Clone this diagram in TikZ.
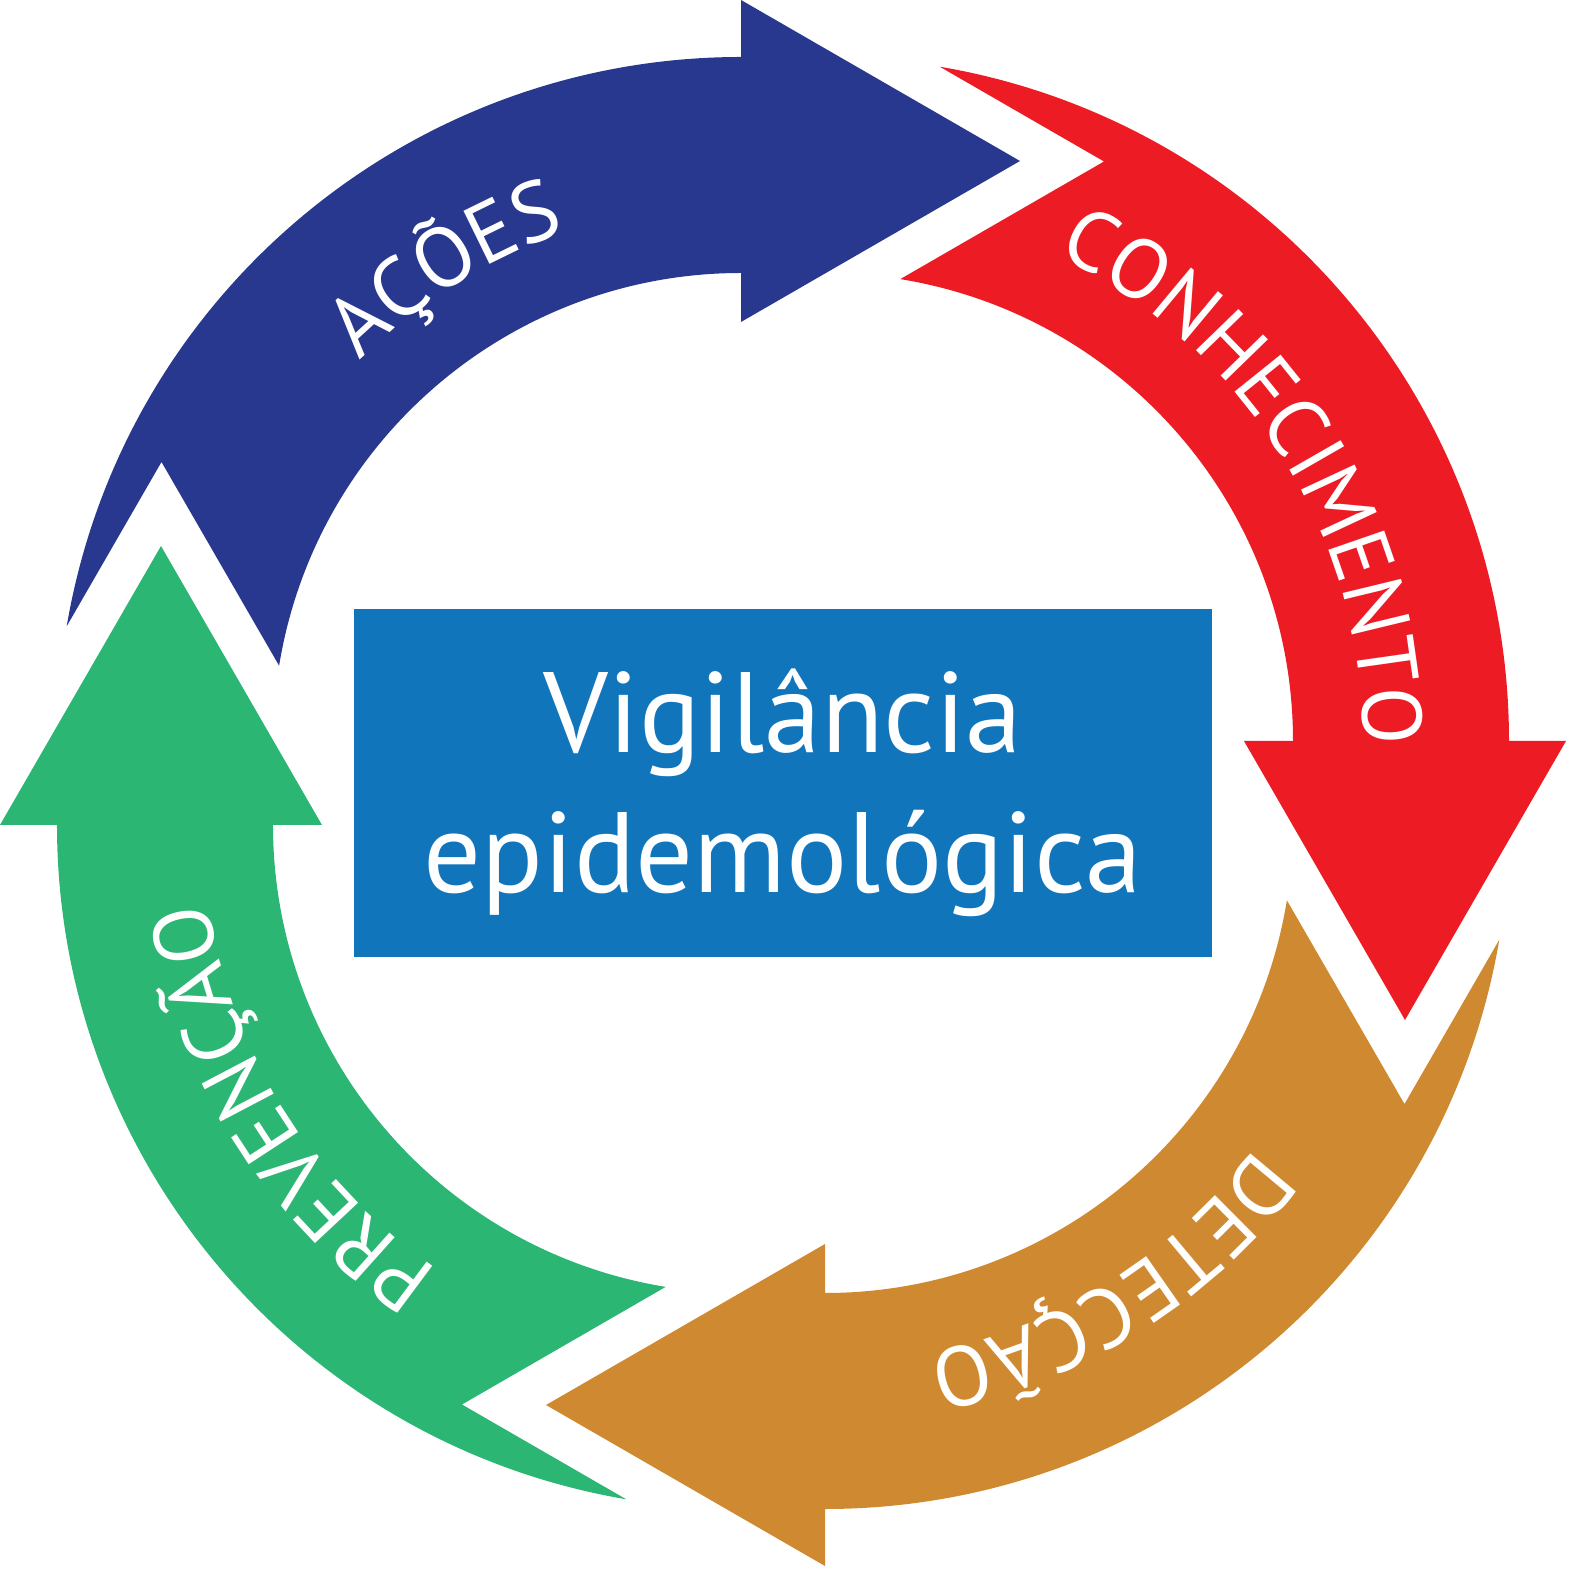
\documentclass[tikz,border=0pt]{standalone}
\usepackage{fontspec}
\setmainfont{PT Sans}
\usetikzlibrary{decorations.text}

\definecolor{acoesblue}{RGB}{41,56,143}
\definecolor{conhred}{RGB}{237,28,36}
\definecolor{detecorange}{RGB}{207,138,49}
\definecolor{prevgreen}{RGB}{44,182,115}
\definecolor{boxblue}{RGB}{17,117,188}

\newcommand{\ringfont}{\color{white}\fontsize{24}{28}\selectfont}

\begin{document}
\begin{tikzpicture}[x=0.01cm, y=0.01cm,
  ringtext/.style={decorate, decoration={text along path, text align=center, text format delimiters={|}{|}}},
  box/.style={fill=boxblue, minimum width=8.57cm, minimum height=3.48cm, inner sep=0pt},
  boxlabel/.style={text=white, anchor=base, inner sep=0pt, font=\fontsize{32.5}{39}\selectfont}]
\useasboundingbox (-783,-787) rectangle (786,783);

% Four curved arrows, each a quarter turn from the last
\foreach \col/\rot/\word in {acoesblue/0/AÇÕES, conhred/-90/CONHECIMENTO, detecorange/-180/DETECÇÃO, prevgreen/-270/PREVENÇÃO}{
  \begin{scope}[rotate=\rot, shift={(-42,42)}]
    \fill[\col] (170.34:684) arc[start angle=170.34, end angle=90, radius=684]
      -- (0,741) -- (279,580) -- (0,419) -- (0,468)
      arc[start angle=90, end angle=170.74, radius=468] -- (-579.5,279) -- cycle;
    \path[ringtext, decoration={text/.expanded={|\noexpand\ringfont|\word}}]
      (172:538) arc[start angle=172, end angle=72, radius=538];
  \end{scope}
}

% Centre box
\node[box] (box) at (0,0) {};
\node[boxlabel] (vigilancia) at (0,30) {Vigilância};
\node[boxlabel] (epidemo) at (0,-110) {epidemológica};
\end{tikzpicture}
\end{document}
